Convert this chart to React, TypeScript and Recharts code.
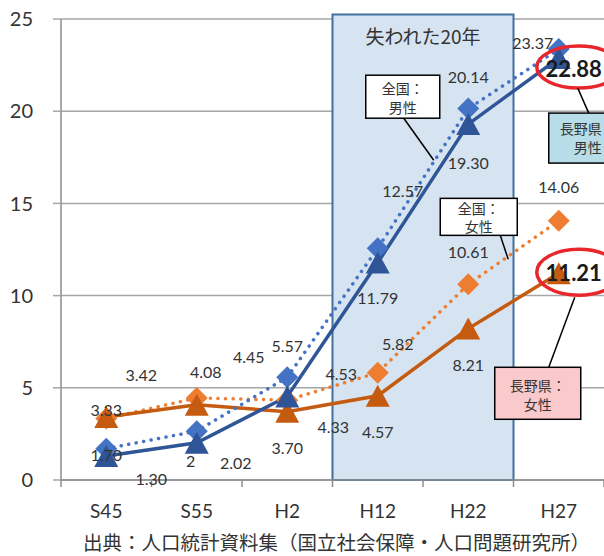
import React from 'react';
import { LineChart, Line, XAxis, YAxis, CartesianGrid, ReferenceArea, ReferenceDot, LabelList } from 'recharts';

const years = ['S45', 'S55', 'H2', 'H12', 'H22', 'H27'];
const nationalMale = [1.7, 2.65, 5.57, 12.57, 20.14, 23.37];
const naganoMale = [1.3, 2.02, 4.53, 11.79, 19.3, 22.88];
const nationalFemale = [3.33, 4.45, 4.33, 5.82, 10.61, 14.06];
const naganoFemale = [3.42, 4.08, 3.7, 4.57, 8.21, 11.21];
// the S55 national male label is printed as "2" in the original
const nationalMaleText = ['1.70', '2', '5.57', '12.57', '20.14', '23.37'];
const yTicks = [0, 5, 10, 15, 20, 25];

const data = years.map((year, i) => ({
  year,
  nationalMale: nationalMale[i],
  naganoMale: naganoMale[i],
  nationalFemale: nationalFemale[i],
  naganoFemale: naganoFemale[i],
}));

const NUM_FONT = "Lato, 'Noto Sans CJK JP', sans-serif";
const JP_FONT = "'Noto Sans CJK JP', sans-serif";
const AXIS = '#8c8c8c';
const GRID = '#a6a6a6';
const TEXT = '#333333';

const BLUE_LIGHT = '#4472c4';
const BLUE_DARK = '#2f5597';
const ORANGE_LIGHT = '#ed7d31';
const ORANGE_DARK = '#c55a11';

// label offsets from each point, [dx, dy]
const nationalMaleOff = [[0, 6], [-6, 29], [0, -32], [25, -58], [0, -32], [-26, -7]];
const naganoMaleOff = [[45, 22], [39, 20], [54, -23], [0, 35], [0, 38], [15, 10]];
const nationalFemaleOff = [[0, -9], [52, -41], [46, 26], [20, -29], [0, -33], [0, -34]];
const naganoFemaleOff = [[35, -42], [9, -33], [0, 36], [0, 36], [0, 36], [15, -1]];

const makeLabel = (offsets: number[][], texts?: string[], boldIndex?: number) => (props: any) => {
  const { x, y, index, value } = props;
  if (x == null || y == null) return null;
  const [dx, dy] = offsets[index];
  const bold = boldIndex === index;
  return (
    <text
      x={x + dx}
      y={y + dy}
      textAnchor="middle"
      dominantBaseline="central"
      fontFamily={NUM_FONT}
      fontSize={bold ? 22 : 16}
      fontWeight={bold ? 700 : 400}
      fill={bold ? '#1a1a1a' : TEXT}
    >
      {texts ? texts[index] : Number(value).toFixed(2)}
    </text>
  );
};

const diamondDot = (color: string) => (props: any) => {
  const { cx, cy, index } = props;
  const s = 11;
  return (
    <polygon
      key={`d-${color}-${index}`}
      points={`${cx},${cy - s} ${cx + s},${cy} ${cx},${cy + s} ${cx - s},${cy}`}
      fill={color}
    />
  );
};

const triangleDot = (color: string) => (props: any) => {
  const { cx, cy, index } = props;
  const w = 12;
  const h = 11;
  return (
    <polygon
      key={`t-${color}-${index}`}
      points={`${cx},${cy - h} ${cx + w},${cy + h} ${cx - w},${cy + h}`}
      fill={color}
    />
  );
};

const XTick = (props: any) => {
  const { x, y, payload, index } = props;
  const half = payload?.offset || 45.25;
  return (
    <g>
      <line x1={x - half} x2={x - half} y1={y} y2={y + 7} stroke={AXIS} strokeWidth={1.5} />
      {index === years.length - 1 && (
        <line x1={x + half} x2={x + half} y1={y} y2={y + 7} stroke={AXIS} strokeWidth={1.5} />
      )}
      <text x={x} y={y + 30} textAnchor="middle" dominantBaseline="central" fontFamily={NUM_FONT} fontSize={19} fill={TEXT}>
        {payload.value}
      </text>
    </g>
  );
};

interface CalloutSpec {
  lines: string[];
  box: [number, number, number, number];
  lineY: [number, number];
  leader: [number, number, number, number];
  fill: string;
  ellipse?: [number, number, number, number];
}

const callout = (spec: CalloutSpec) => (props: any) => {
  const { cx, cy } = props;
  if (cx == null || cy == null) return null;
  const [bx, by, bw, bh] = spec.box;
  const [lx1, ly1, lx2, ly2] = spec.leader;
  const tx = cx + bx + bw / 2;
  return (
    <g>
      {spec.ellipse && (
        <ellipse
          cx={cx + spec.ellipse[0]}
          cy={cy + spec.ellipse[1]}
          rx={spec.ellipse[2]}
          ry={spec.ellipse[3]}
          fill="none"
          stroke="#e8262b"
          strokeWidth={3.5}
        />
      )}
      <line x1={cx + lx1} y1={cy + ly1} x2={cx + lx2} y2={cy + ly2} stroke="#000" strokeWidth={1.5} />
      <rect x={cx + bx} y={cy + by} width={bw} height={bh} fill={spec.fill} stroke="#000" strokeWidth={1.5} />
      <text textAnchor="middle" dominantBaseline="central" fontFamily={JP_FONT} fontSize={14} fill="#333">
        {spec.lines.map((t, i) => (
          <tspan key={i} x={tx} y={cy + by + spec.lineY[i]}>
            {t}
          </tspan>
        ))}
      </text>
    </g>
  );
};

const nationalMaleCallout = callout({
  lines: ['全国：', '男性'],
  box: [-12, -173, 74, 43],
  lineY: [13, 32],
  leader: [26, -130, 56, -88],
  fill: '#ffffff',
});
const nationalFemaleCallout = callout({
  lines: ['全国：', '女性'],
  box: [-28, -86, 77, 37],
  lineY: [10, 28],
  leader: [32, -49, 40, -25],
  fill: '#ffffff',
});
const naganoMaleCallout = callout({
  lines: ['長野県：', '男性'],
  box: [-10, 55, 78, 50],
  lineY: [15, 34],
  leader: [30, 55, 19, 30],
  fill: '#b7dee8',
  ellipse: [20, 9, 42, 21],
});
const naganoFemaleCallout = callout({
  lines: ['長野県：', '女性'],
  box: [-64, 94, 86, 52],
  lineY: [18, 37],
  leader: [16, 24, -10, 94],
  fill: '#f9c9cc',
  ellipse: [20, -1, 42, 23],
});

const AreaTitle = (props: any) => {
  const vb = props.viewBox || {};
  return (
    <text
      x={vb.x + vb.width / 2}
      y={vb.y + 21}
      textAnchor="middle"
      dominantBaseline="central"
      fontFamily={JP_FONT}
      fontSize={19}
      fill="#333"
    >
      失われた20年
    </text>
  );
};

const SourceLabel = (props: any) => {
  const vb = props.viewBox || {};
  return (
    <text
      x={vb.x + vb.width / 2 + 4}
      y={vb.y + 61}
      textAnchor="middle"
      dominantBaseline="central"
      fontFamily={JP_FONT}
      fontSize={19.5}
      fill="#333"
    >
      出典：人口統計資料集（国立社会保障・人口問題研究所）
    </text>
  );
};

export default function App() {
  return (
    <div style={{ position: 'absolute', left: 0, top: 0, width: 604, height: 556, background: '#fff' }}>
      <LineChart width={604} height={556} data={data} margin={{ top: 19, right: 0, bottom: 0, left: 0 }}>
        <CartesianGrid vertical={false} stroke={GRID} strokeWidth={1.5} />
        <ReferenceArea
          x1="H12"
          x2="H22"
          y1={0}
          y2={25.25}
          ifOverflow="visible"
          fill="#d6e4f2"
          fillOpacity={1}
          stroke="#41719c"
          strokeWidth={2}
          label={<AreaTitle />}
        />
        <XAxis
          dataKey="year"
          scale="band"
          interval={0}
          tickSize={0}
          tickMargin={0}
          tick={<XTick />}
          height={76}
          axisLine={{ stroke: AXIS, strokeWidth: 1.5 }}
          label={<SourceLabel />}
        />
        <YAxis
          domain={[0, 25]}
          ticks={yTicks}
          width={61}
          tickLine={{ stroke: GRID, strokeWidth: 1.5 }}
          tickSize={8}
          tickMargin={20}
          axisLine={{ stroke: AXIS, strokeWidth: 1.5 }}
          tick={{ fontFamily: NUM_FONT, fontSize: 20, fill: TEXT }}
        />
        <Line
          dataKey="nationalFemale"
          stroke={ORANGE_LIGHT}
          strokeWidth={3.5}
          strokeDasharray="0.1 7.5"
          strokeLinecap="round"
          dot={diamondDot(ORANGE_LIGHT)}
          activeDot={false}
          isAnimationActive={false}
        >
          <LabelList dataKey="nationalFemale" content={makeLabel(nationalFemaleOff)} />
        </Line>
        <Line
          dataKey="naganoFemale"
          stroke={ORANGE_DARK}
          strokeWidth={3.5}
          dot={triangleDot(ORANGE_DARK)}
          activeDot={false}
          isAnimationActive={false}
        >
          <LabelList dataKey="naganoFemale" content={makeLabel(naganoFemaleOff, undefined, 5)} />
        </Line>
        <Line
          dataKey="nationalMale"
          stroke={BLUE_LIGHT}
          strokeWidth={3.5}
          strokeDasharray="0.1 7.5"
          strokeLinecap="round"
          dot={diamondDot(BLUE_LIGHT)}
          activeDot={false}
          isAnimationActive={false}
        >
          <LabelList dataKey="nationalMale" content={makeLabel(nationalMaleOff, nationalMaleText)} />
        </Line>
        <Line
          dataKey="naganoMale"
          stroke={BLUE_DARK}
          strokeWidth={3.5}
          dot={triangleDot(BLUE_DARK)}
          activeDot={false}
          isAnimationActive={false}
        >
          <LabelList dataKey="naganoMale" content={makeLabel(naganoMaleOff, undefined, 5)} />
        </Line>
        <ReferenceDot x="H12" y={nationalMale[3]} r={0} shape={nationalMaleCallout} />
        <ReferenceDot x="H22" y={nationalFemale[4]} r={0} shape={nationalFemaleCallout} />
        <ReferenceDot x="H27" y={naganoMale[5]} r={0} shape={naganoMaleCallout} />
        <ReferenceDot x="H27" y={naganoFemale[5]} r={0} shape={naganoFemaleCallout} />
      </LineChart>
    </div>
  );
}
